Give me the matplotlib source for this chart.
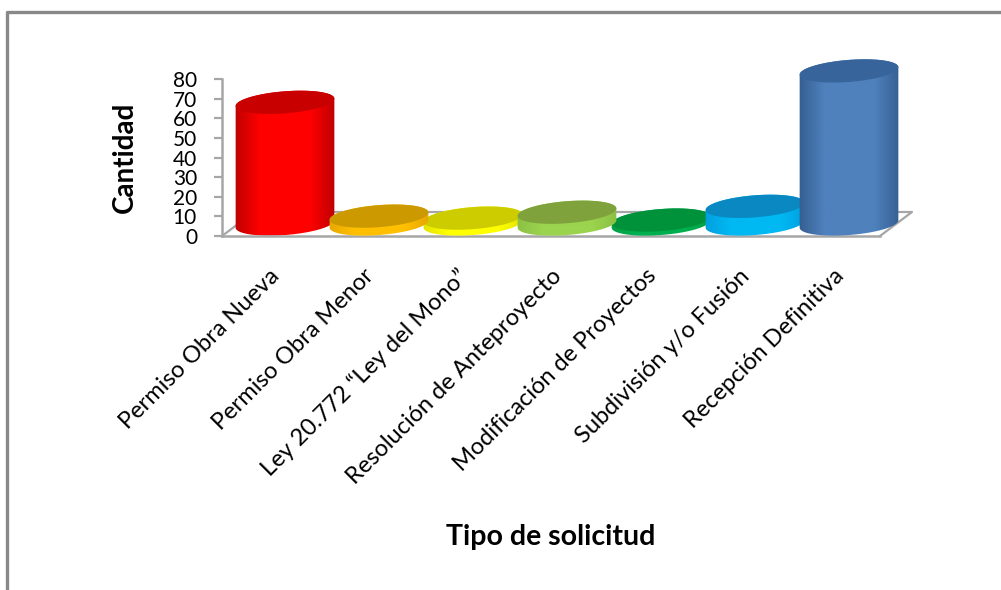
import numpy as np
import matplotlib
matplotlib.use("Agg")
import matplotlib.pyplot as plt
from matplotlib.colors import LinearSegmentedColormap
from matplotlib.lines import Line2D
from matplotlib.patches import Polygon

categories = ["Permiso Obra Nueva", "Permiso Obra Menor", "Ley 20.772 “Ley del Mono”",
              "Resolución de Anteproyecto", "Modificación de Proyectos",
              "Subdivisión y/o Fusión", "Recepción Definitiva"]
values = [62, 4, 3, 6, 2, 9, 78]
y_ticks = [0, 10, 20, 30, 40, 50, 60, 70, 80]

# top, edge, body colours per bar
top_colors = ["#C80000", "#CC9900", "#CCCC00", "#7FA23C", "#00923A", "#0A88C2", "#38649C"]
edge_colors = ["#C00000", "#E8A800", "#E4E400", "#8CC044", "#00A044", "#00A0E0", "#355F92"]
body_colors = ["#FF0000", "#FFC000", "#FFFF00", "#9BD44E", "#00B050", "#00B8F2", "#4F81BD"]
# later entries sit on top where the cylinders overlap
draw_order = [0, 2, 1, 4, 3, 5, 6]

W, H = 1001, 590
AX_L, AX_R, AX_B, AX_T = 222, 880, 236, 79
GRAY = "#A6A6A6"

plt.rcParams["font.family"] = ["Lato", "DejaVu Sans"]
fig = plt.figure(figsize=(W / 100, H / 100), dpi=100)
ax = fig.add_axes([AX_L / W, 1 - AX_B / H, (AX_R - AX_L) / W, (AX_B - AX_T) / H])
ax.set_xlim(0, 7)
ax.set_ylim(0, 80)

# pixels to data units
px_x = 7 / (AX_R - AX_L)
px_y = 80 / (AX_B - AX_T)
depth_x = 32 * px_x
depth_y = 24 * px_y


def ellipse_points(cx, cy, t):
    a, b, tilt = 49.5, 11, np.radians(4.5)
    x = a * np.cos(t) * np.cos(tilt) - b * np.sin(t) * np.sin(tilt)
    y = a * np.cos(t) * np.sin(tilt) + b * np.sin(t) * np.cos(tilt)
    return np.column_stack([cx + x * px_x, cy + y * px_y])


# floor of the 3D box
ax.plot([0, depth_x, 7 + depth_x, 7], [0, depth_y, depth_y, 0], color=GRAY, lw=1.6,
        clip_on=False, zorder=1)

for z, i in enumerate(draw_order):
    cx = i + 0.5 + depth_x / 2
    base = depth_y / 2
    top = base + values[i]
    lower = ellipse_points(cx, base, np.linspace(np.pi, 2 * np.pi, 60))
    upper = ellipse_points(cx, top, np.linspace(0, np.pi, 60))
    body = Polygon(np.vstack([lower, upper]), closed=True, facecolor="none",
                   edgecolor="none", transform=ax.transData)
    ax.add_patch(body)
    cmap = LinearSegmentedColormap.from_list(
        "side", [(0, edge_colors[i]), (0.25, body_colors[i]), (0.75, body_colors[i]),
                 (1, edge_colors[i])])
    half = 50 * px_x
    im = ax.imshow(np.linspace(0, 1, 200).reshape(1, -1), cmap=cmap, aspect="auto",
                   extent=[cx - half, cx + half, 0, top + 15 * px_y], zorder=2 + z)
    im.set_clip_path(body)
    im.set_clip_box(fig.bbox)
    cap = ellipse_points(cx, top, np.linspace(0, 2 * np.pi, 120))
    ax.add_patch(Polygon(cap, closed=True, facecolor=top_colors[i], edgecolor="none",
                         clip_on=False, zorder=2 + z))

ax.set_xlim(0, 7)
ax.set_ylim(0, 80)

ax.set_xticks([i + 0.5 for i in range(7)])
ax.set_xticklabels(categories, rotation=45, ha="right", va="top", rotation_mode="anchor",
                   fontsize=17)
ax.set_yticks(y_ticks)
ax.set_yticklabels([str(v) for v in y_ticks], fontsize=15)
ax.tick_params(axis="x", length=0, pad=21)
ax.tick_params(axis="y", length=6, width=1.6, color=GRAY, pad=12)
for name in ["top", "right"]:
    ax.spines[name].set_visible(False)
for name in ["left", "bottom"]:
    ax.spines[name].set_color(GRAY)
    ax.spines[name].set_linewidth(1.8)
ax.patch.set_alpha(0)

fig.text(125 / W, 1 - 157 / H, "Cantidad", rotation=90, ha="center", va="center",
         fontsize=20, fontweight="bold", color="black")
fig.text(551 / W, 1 - 537 / H, "Tipo de solicitud", ha="center", va="center",
         fontsize=20.5, fontweight="bold", color="black")

# outer chart border, only left and top show in the crop
fig.add_artist(Line2D([7 / W, 7 / W, 1], [0, 1 - 12 / H, 1 - 12 / H], color="#888888", lw=2.4))

fig.savefig("out.png", dpi=100)
